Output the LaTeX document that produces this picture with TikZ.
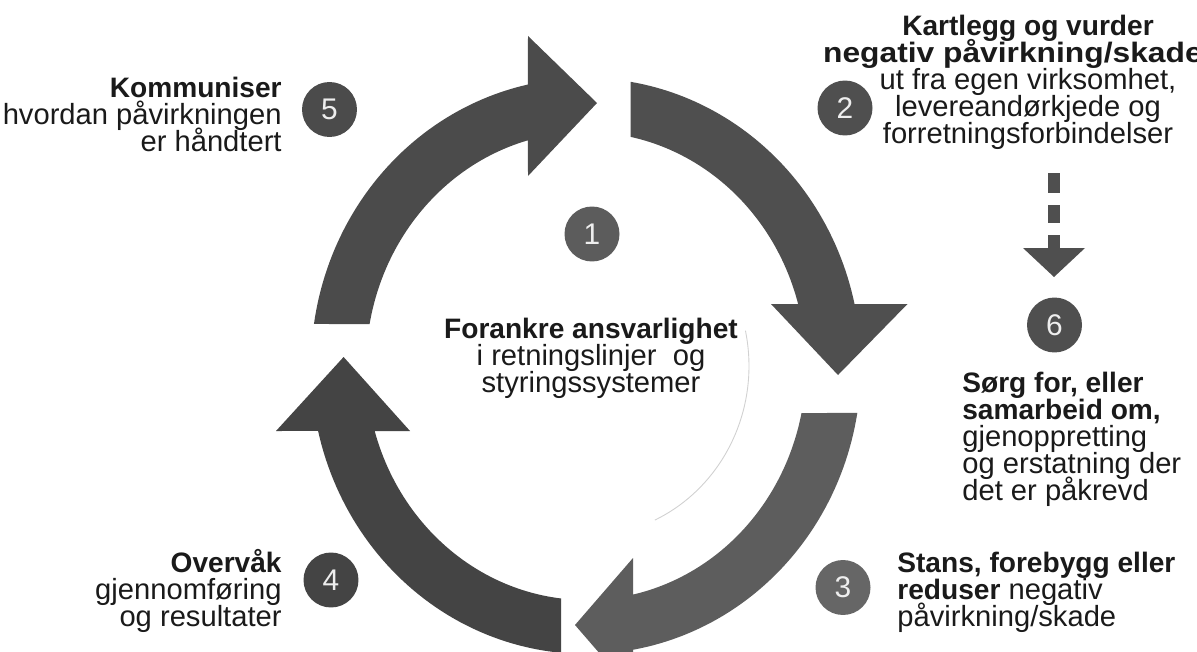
\documentclass[tikz,border=0pt]{standalone}
\usepackage{fontspec}
\usepackage{graphicx}
\setmainfont{Liberation Sans}
\definecolor{arrowA}{HTML}{4B4B4B}
\definecolor{arrowB}{HTML}{4F4F4F}
\definecolor{arrowC}{HTML}{5D5D5D}
\definecolor{arrowD}{HTML}{444444}
\definecolor{circA}{HTML}{5C5C5C}
\definecolor{circB}{HTML}{666666}
\definecolor{txtc}{HTML}{1A1A1A}
\definecolor{digitc}{HTML}{EEEEEE}
\newcommand{\bt}[1]{{\fontsize{16}{15.36}\selectfont\bfseries #1}}
\newcommand{\topstrut}{\rule{0pt}{13pt}}
\newcommand{\labelfont}{\fontsize{16.6}{15.36}\selectfont\lineskiplimit -100pt\relax}
\begin{document}
\begin{tikzpicture}[x=0.02cm,y=-0.02cm,
  label/.style={inner sep=0pt,text=txtc,font=\labelfont},
  numcirc/.style={circle,inner sep=0pt,minimum size=1.1cm,text=digitc,font=\fontsize{17}{17}\selectfont}]
\useasboundingbox (0,0) rectangle (1197,652);
\clip (0,0) rectangle (1197,652);
\fill[white] (0,0) rectangle (1197,652);

% faint inner arc
\draw[black!18,line width=0.5pt] plot[domain=-12:65,samples=40] ({586+163*cos(\x)},{366+170*sin(\x)});

% arrow 5 (left, up to top)
\fill[arrowA] plot[domain=-171.6:-102.2,samples=50] ({586+275*cos(\x)},{366+288*sin(\x)})
  -- (528,36) -- (597,103) -- (528,176)
  -- plot[domain=-105.3:-169.7,samples=50] ({586+220*cos(\x)},{366+234*sin(\x)}) -- cycle;
% arrow 2 (top, down right)
\fill[arrowB] plot[domain=-80.67:-12.43,samples=50] ({586+275*cos(\x)},{366+288*sin(\x)})
  -- (907.5,304) -- (838,375) -- (771,304)
  -- plot[domain=-15.36:-78.3,samples=50] ({586+220*cos(\x)},{366+234*sin(\x)}) -- cycle;
% arrow 3 (right, down to bottom)
\fill[arrowC] plot[domain=9.39:80.16,samples=50] ({586+275*cos(\x)},{366+288*sin(\x)})
  -- (633,692) -- (575,625) -- (633,558)
  -- plot[domain=77.66:11.59,samples=50] ({586+220*cos(\x)},{366+234*sin(\x)}) -- cycle;
% arrow 4 (bottom, up left)
\fill[arrowD] plot[domain=95.2:166.96,samples=50] ({586+275*cos(\x)},{366+288*sin(\x)})
  -- (276,431) -- (343.6,357) -- (410,431)
  -- plot[domain=163.87:96.5,samples=50] ({586+220*cos(\x)},{366+234*sin(\x)}) -- cycle;

% number circles
\node[numcirc,fill=arrowA] (n5) at (329.5,109.5) {5};
\node[numcirc,fill=arrowB] (n2) at (845,108) {2};
\node[numcirc,fill=circA] (n1) at (592,234) {1};
\node[numcirc,fill=arrowB] (n6) at (1054.5,325) {6};
\node[numcirc,fill=arrowD] (n4) at (331,580) {4};
\node[numcirc,fill=circB] (n3) at (843,587.5) {3};

% dashed arrow from 2 to 6
\coordinate (dtip) at (1054,277);
\fill[arrowB] (1048,173) rectangle (1060,193);
\fill[arrowB] (1048,205) rectangle (1060,223);
\fill[arrowB] (1048,235) rectangle (1060,249);
\fill[arrowB] (1023,248) -- (1085,248) -- (dtip) -- cycle;

% texts (node top = first baseline - 13pt)
\node[label,anchor=north east,align=right] (t5) at (282,74.7)
  {\topstrut\bt{Kommuniser}\\hvordan påvirkningen\\er håndtert};
\node[label,anchor=north,align=center] (t2) at (1028,12.2)
  {\topstrut\bt{Kartlegg og vurder}\\\makebox[0pt][l]{\hspace*{-116.6pt}\scalebox{1.13}[1]{\bt{negativ påvirkning/skade}}}\\ut fra egen virksomhet,\\levereandørkjede og\\forretningsforbindelser};
\node[label,anchor=north west,align=left] (t6) at (962,369.2)
  {\topstrut\bt{Sørg for, eller}\\\bt{samarbeid om,}\\gjenoppretting\\og erstatning der\\det er påkrevd};
\node[label,anchor=north west,align=left] (t3) at (897,549.2)
  {\topstrut\bt{Stans, forebygg eller}\\\bt{reduser} negativ\\påvirkning/skade};
\node[label,anchor=north east,align=right] (t4) at (282,549.2)
  {\topstrut\bt{Overvåk}\\gjennomføring\\og resultater};
\node[label,anchor=north,align=center] (t1) at (591,315.7)
  {\topstrut\bt{Forankre ansvarlighet}\\i retningslinjer\ \ og\\styringssystemer};
\end{tikzpicture}
\end{document}
